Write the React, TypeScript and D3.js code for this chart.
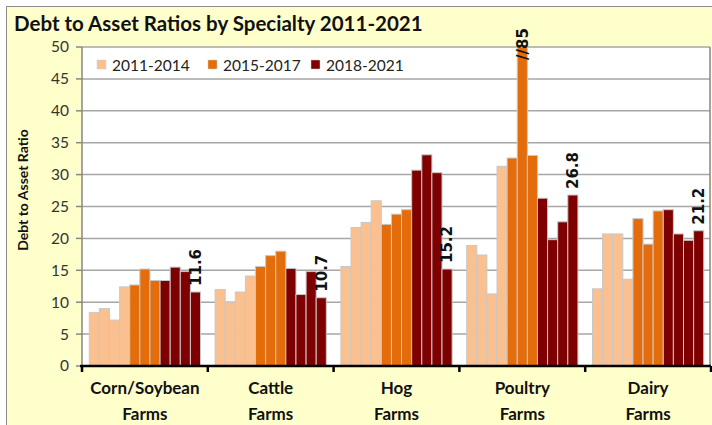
import * as d3 from "d3";

const categories = ["Corn/Soybean Farms", "Cattle Farms", "Hog Farms", "Poultry Farms", "Dairy Farms"];
const years = ["2011", "2012", "2013", "2014", "2015", "2016", "2017", "2018", "2019", "2020", "2021"];
const periods = ["2011-2014", "2015-2017", "2018-2021"];
const yearPeriod = [0, 0, 0, 0, 1, 1, 1, 2, 2, 2, 2];

const cornSoybean = [8.4, 9.0, 7.2, 12.4, 12.7, 15.2, 13.4, 13.4, 15.5, 14.8, 11.6];
const cattle = [12.0, 10.0, 11.6, 14.1, 15.6, 17.3, 18.0, 15.3, 11.2, 14.8, 10.7];
const hog = [15.6, 21.7, 22.5, 25.9, 22.2, 23.8, 24.5, 30.7, 33.1, 30.3, 15.2];
const poultry = [18.9, 17.4, 11.3, 31.3, 32.6, 85, 33.0, 26.3, 19.8, 22.6, 26.8];
const dairy = [12.1, 20.7, 20.7, 13.6, 23.1, 19.1, 24.3, 24.5, 20.7, 19.7, 21.2];
const seriesValues = [cornSoybean, cattle, hog, poultry, dairy];

const yTicks = [0, 5, 10, 15, 20, 25, 30, 35, 40, 45, 50];

const W = 712;
const H = 425;
const plot = { left: 82, right: 710, top: 47, bottom: 366 };
const colors = ["#FAC090", "#E46C0A", "#7F0000"];
const font = "Lato, 'Open Sans', sans-serif";

export default function App() {
  const x = d3.scaleBand<string>().domain(categories).range([plot.left, plot.right + 1]).padding(0);
  const xYear = d3
    .scaleBand<string>()
    .domain(years)
    .range([0, x.bandwidth()])
    .paddingInner(0)
    .paddingOuter(0.72);
  const yMax = d3.max(yTicks) as number;
  const y = d3.scaleLinear().domain([0, yMax]).range([plot.bottom, plot.top]);

  const catEdges = categories.map((c) => x(c) as number).concat([plot.right + 1]);

  return (
    <svg
      width={W}
      height={H}
      style={{ position: "absolute", left: 0, top: 0, display: "block" }}
      fontFamily={font}
    >
      <rect x={0} y={0} width={W} height={H} fill="#ffffff" />
      <rect x={6.5} y={6.5} width={W + 10} height={H + 10} fill="#FFFFCC" stroke="#8c8c8c" strokeWidth={1} />
      <text x={14} y={31} fontSize={20.5} fontWeight="bold" fill="#111" fontFamily={font}>
        Debt to Asset Ratios by Specialty 2011-2021
      </text>

      {/* plot area */}
      <rect
        x={plot.left}
        y={plot.top}
        width={plot.right - plot.left}
        height={plot.bottom - plot.top}
        fill="#ffffff"
      />
      {yTicks.map((t) => (
        <g key={t}>
          {t > 0 && (
            <line x1={plot.left} x2={plot.right} y1={y(t)} y2={y(t)} stroke="#a6a6a6" strokeWidth={1.5} />
          )}
          <line x1={plot.left - 6} x2={plot.left} y1={y(t)} y2={y(t)} stroke="#868686" strokeWidth={1.5} />
          <text x={69} y={y(t)} dy="0.35em" textAnchor="end" fontSize={15.5} fill="#333">
            {t}
          </text>
        </g>
      ))}
      <line x1={plot.right} x2={plot.right} y1={plot.top} y2={plot.bottom} stroke="#868686" strokeWidth={1.5} />
      <line x1={plot.left} x2={plot.left} y1={plot.top} y2={plot.bottom} stroke="#868686" strokeWidth={1.5} />

      {/* legend */}
      {periods.map((p, i) => {
        const lx = [97, 208, 311][i];
        return (
          <g key={p}>
            <rect x={lx} y={60} width={9} height={9} fill={colors[i]} stroke="#d0d0d0" strokeWidth={0.5} />
            <text x={lx + 15} y={65} dy="0.36em" fontSize={15.5} fill="#222">
              {p}
            </text>
          </g>
        );
      })}

      {/* bars */}
      {categories.map((c, ci) => (
        <g key={c} transform={`translate(${x(c)},0)`}>
          {seriesValues[ci].map((v, yi) => {
            const top = y(Math.min(v, yMax));
            return (
              <rect
                key={yi}
                x={xYear(years[yi])}
                y={top}
                width={xYear.bandwidth()}
                height={plot.bottom - top}
                fill={colors[yearPeriod[yi]]}
                stroke="#c8c8c8"
                strokeWidth={1}
              />
            );
          })}
        </g>
      ))}

      {/* value labels */}
      {categories.map((c, ci) => {
        const vals = seriesValues[ci];
        const last = vals.length - 1;
        const cx = (x(c) as number) + (xYear(years[last]) as number) + xYear.bandwidth() / 2;
        const ty = y(vals[last]) - 6;
        return (
          <text
            key={c}
            transform={`translate(${cx},${ty}) rotate(-90)`}
            dy="0.36em"
            fontSize={15}
            fontWeight="bold"
            fontFamily="'DejaVu Sans', sans-serif"
            fill="#111"
          >
            {vals[last].toFixed(1)}
          </text>
        );
      })}
      {categories.map((c, ci) =>
        seriesValues[ci]
          .map((v, yi) => ({ v, yi }))
          .filter((d) => d.v > yMax)
          .map((d) => {
            const cx = (x(c) as number) + (xYear(years[d.yi]) as number) + xYear.bandwidth() / 2;
            return (
              <text
                key={`${c}-${d.yi}`}
                transform={`translate(${cx},${plot.top + 13}) rotate(-90)`}
                dy="0.36em"
                fontSize={15}
                fontWeight="bold"
                fontFamily="'DejaVu Sans', sans-serif"
                fill="#111"
              >
                {"//" + d.v}
              </text>
            );
          })
      )}

      {/* x axis */}
      <line x1={plot.left - 2} x2={plot.right + 1} y1={plot.bottom} y2={plot.bottom} stroke="#000" strokeWidth={2.5} />
      {catEdges.map((ex, i) => (
        <line key={i} x1={ex} x2={ex} y1={plot.bottom} y2={plot.bottom + 6} stroke="#000" strokeWidth={2.5} />
      ))}
      {categories.map((c) => {
        const parts = c.split(" ");
        const cx = (x(c) as number) + x.bandwidth() / 2;
        return (
          <text key={c} x={cx} textAnchor="middle" fontSize={17} fontWeight="bold" fill="#111">
            <tspan x={cx} y={394}>
              {parts[0]}
            </tspan>
            <tspan x={cx} y={420}>
              {parts.slice(1).join(" ")}
            </tspan>
          </text>
        );
      })}

      {/* y axis title */}
      <text
        transform={`translate(28,190) rotate(-90)`}
        textAnchor="middle"
        fontSize={14}
        fontWeight="bold"
        fill="#111"
      >
        Debt to Asset Ratio
      </text>
    </svg>
  );
}
